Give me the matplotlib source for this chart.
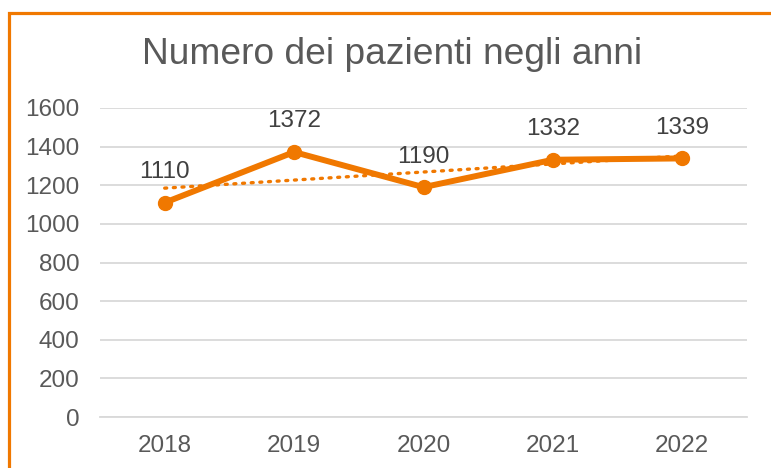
import numpy as np
import matplotlib
matplotlib.use("Agg")
import matplotlib.pyplot as plt
from matplotlib.patches import Rectangle

# data
anni = ["2018", "2019", "2020", "2021", "2022"]
pazienti = [1110, 1372, 1190, 1332, 1339]
y_ticks = [0, 200, 400, 600, 800, 1000, 1200, 1400, 1600]

ARANCIO = "#F07800"
GRIGIO = "#595959"

plt.rcParams["font.family"] = ["Liberation Sans", "DejaVu Sans"]

fig = plt.figure(figsize=(7.71, 4.68), dpi=100)
ax = fig.add_axes([100 / 771, 1 - 417 / 468, 647 / 771, 309 / 468])

x = np.arange(len(anni))

# linear trend line (dotted), like the Excel trendline
coef = np.polyfit(x, pazienti, 1)
ax.plot(x, np.polyval(coef, x), color=ARANCIO, lw=2.4, ls=(0, (0.6, 2.0)),
        dash_capstyle="round", zorder=2)

ax.plot(x, pazienti, color=ARANCIO, lw=4.3, marker="o", ms=10,
        solid_capstyle="round", zorder=3)

for xi, v in zip(x, pazienti):
    ax.annotate(str(v), (xi, v), xytext=(0, 22), textcoords="offset points",
                ha="center", va="center", fontsize=17.5, color="#404040")

ax.set_xlim(-0.5, len(anni) - 0.5)
ax.set_ylim(0, 1600)
ax.set_yticks(y_ticks)
ax.set_xticks(x)
ax.set_xticklabels(anni)
ax.grid(axis="y", color="#D9D9D9", lw=1.3)
ax.set_axisbelow(True)
for s in ["top", "right", "left"]:
    ax.spines[s].set_visible(False)
ax.spines["bottom"].set_color("#D9D9D9")
ax.spines["bottom"].set_linewidth(1.3)
ax.tick_params(length=0, labelsize=17.5, labelcolor=GRIGIO)
ax.tick_params(axis="y", pad=15)
ax.tick_params(axis="x", pad=13)

fig.text(392 / 771, 1 - 55 / 468, "Numero dei pazienti negli anni",
         ha="center", va="center", fontsize=26.7, color=GRIGIO)

# orange chart border, cut off at right and bottom like the reference
fig.patches.append(Rectangle((9 / 771, -0.5), 2, 1 - 12.5 / 468 + 0.5,
                             transform=fig.transFigure, fill=False,
                             edgecolor=ARANCIO, lw=2.3))

fig.savefig("out.png", dpi=100)
